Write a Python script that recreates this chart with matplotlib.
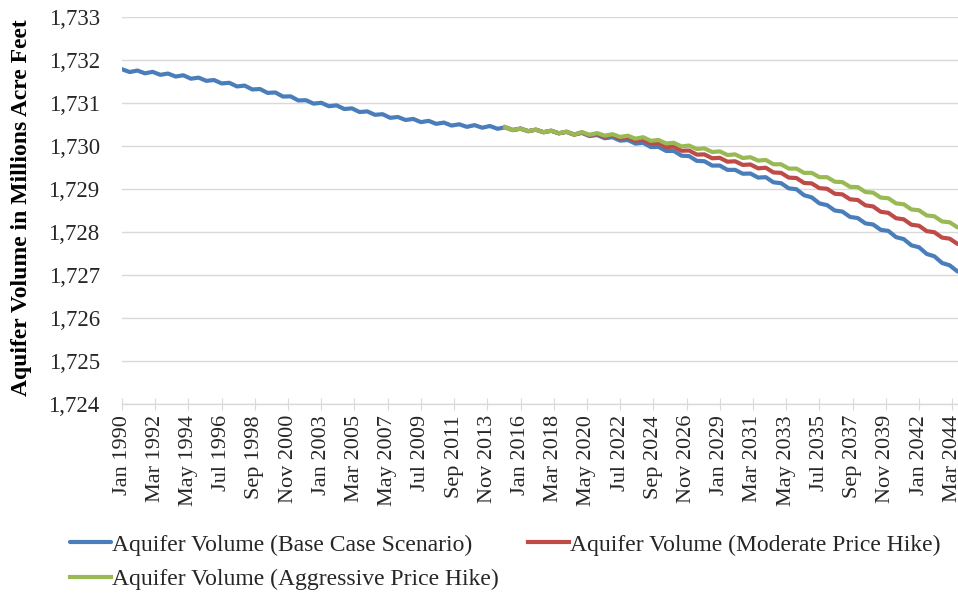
import numpy as np
import matplotlib
matplotlib.use("Agg")
import matplotlib.pyplot as plt

# ---- data (semi-annual readings, months since Jan 1990) ----
base_months = list(range(0, 661, 6))
base_values = [
    1731.785, 1731.72, 1731.755, 1731.69, 1731.725, 1731.655, 1731.685, 1731.615, 1731.645, 1731.565,
    1731.59, 1731.515, 1731.535, 1731.455, 1731.47, 1731.385, 1731.405, 1731.315, 1731.325, 1731.235,
    1731.245, 1731.15, 1731.155, 1731.06, 1731.065, 1730.985, 1731.005, 1730.925, 1730.945, 1730.86,
    1730.875, 1730.79, 1730.805, 1730.725, 1730.74, 1730.655, 1730.675, 1730.605, 1730.63, 1730.555,
    1730.585, 1730.515, 1730.545, 1730.475, 1730.505, 1730.445, 1730.485, 1730.425, 1730.465, 1730.40,
    1730.435, 1730.37, 1730.405, 1730.345, 1730.38, 1730.32, 1730.355, 1730.295, 1730.33, 1730.27,
    1730.305, 1730.23, 1730.255, 1730.18, 1730.205, 1730.125, 1730.14, 1730.055, 1730.075, 1729.975,
    1729.98, 1729.885, 1729.885, 1729.775, 1729.765, 1729.655, 1729.645, 1729.545, 1729.545, 1729.445,
    1729.445, 1729.355, 1729.36, 1729.265, 1729.275, 1729.155, 1729.135, 1729.015, 1728.995, 1728.855,
    1728.805, 1728.665, 1728.625, 1728.50, 1728.475, 1728.35, 1728.325, 1728.20, 1728.175, 1728.05,
    1728.025, 1727.88, 1727.835, 1727.69, 1727.645, 1727.49, 1727.435, 1727.28, 1727.225, 1727.085,
    1727.045,
]

scenario_months = list(range(300, 661, 6))
moderate_values = [
    1730.435, 1730.37, 1730.405, 1730.345, 1730.38, 1730.32, 1730.355, 1730.295, 1730.33, 1730.26,
    1730.315, 1730.25, 1730.28, 1730.21, 1730.245, 1730.17, 1730.195, 1730.12, 1730.145, 1730.055,
    1730.065, 1729.975, 1729.985, 1729.89, 1729.895, 1729.80, 1729.805, 1729.715, 1729.725, 1729.635,
    1729.645, 1729.56, 1729.57, 1729.48, 1729.495, 1729.385, 1729.375, 1729.265, 1729.255, 1729.14,
    1729.13, 1729.02, 1729.005, 1728.89, 1728.875, 1728.76, 1728.745, 1728.62, 1728.595, 1728.47,
    1728.445, 1728.32, 1728.295, 1728.17, 1728.145, 1728.02, 1727.995, 1727.87, 1727.845, 1727.725,
    1727.705,
]
aggressive_values = [
    1730.435, 1730.37, 1730.405, 1730.345, 1730.38, 1730.32, 1730.355, 1730.295, 1730.335, 1730.265,
    1730.325, 1730.26, 1730.30, 1730.24, 1730.275, 1730.21, 1730.24, 1730.17, 1730.205, 1730.12,
    1730.14, 1730.06, 1730.075, 1729.99, 1730.01, 1729.93, 1729.945, 1729.86, 1729.875, 1729.79,
    1729.805, 1729.72, 1729.74, 1729.66, 1729.675, 1729.575, 1729.575, 1729.475, 1729.475, 1729.375,
    1729.375, 1729.275, 1729.275, 1729.17, 1729.16, 1729.05, 1729.045, 1728.93, 1728.915, 1728.80,
    1728.785, 1728.665, 1728.645, 1728.525, 1728.505, 1728.385, 1728.365, 1728.245, 1728.225, 1728.11,
    1728.095,
]

tick_months = list(range(0, 651, 26))
tick_labels = ["Jan 1990", "Mar 1992", "May 1994", "Jul 1996", "Sep 1998", "Nov 2000", "Jan 2003",
               "Mar 2005", "May 2007", "Jul 2009", "Sep 2011", "Nov 2013", "Jan 2016", "Mar 2018",
               "May 2020", "Jul 2022", "Sep 2024", "Nov 2026", "Jan 2029", "Mar 2031", "May 2033",
               "Jul 2035", "Sep 2037", "Nov 2039", "Jan 2042", "Mar 2044"]
y_ticks = list(range(1724, 1734))

series_names = ["Aquifer Volume (Base Case Scenario)",
                "Aquifer Volume (Moderate Price Hike)",
                "Aquifer Volume (Aggressive Price Hike)"]
colors = ["#4a7ebb", "#be4b48", "#98b954"]

plt.rcParams['font.family'] = ['Liberation Serif', 'DejaVu Serif']

fig = plt.figure(figsize=(9.58, 5.95), dpi=100)
ax = fig.add_axes([122/958, 1-404/595, 1-122/958 + 0.01, (404-17)/595])

l1, = ax.plot(base_months, base_values, color=colors[0], lw=3.0, solid_capstyle='round', solid_joinstyle='round')
l2, = ax.plot(scenario_months, moderate_values, color=colors[1], lw=3.0, solid_joinstyle='round')
l3, = ax.plot(scenario_months, aggressive_values, color=colors[2], lw=3.0, solid_joinstyle='round')

ax.set_xlim(0, 662)
ax.set_ylim(1724, 1733)
ax.set_yticks(y_ticks)
ax.set_yticklabels([f"{v:,}" for v in y_ticks])
ax.set_xticks(tick_months)
ax.set_xticklabels(tick_labels, rotation=90, ha='center', va='top')

ax.grid(axis='y', color='#d9d9d9', lw=1.0)
ax.set_axisbelow(True)
for s in ['left', 'right', 'top']:
    ax.spines[s].set_visible(False)
ax.spines['bottom'].set_color('#d9d9d9')
ax.spines['bottom'].set_linewidth(1.0)
ax.tick_params(axis='y', length=0, pad=16, labelsize=16.5, labelcolor='#262626')
ax.tick_params(axis='x', which='major', direction='inout', length=8, color='#d9d9d9', pad=4,
               labelsize=16, labelcolor='#262626')

fig.text(22/958, 1-208/595, "Aquifer Volume in Millions Acre Feet", rotation=90,
         ha='center', va='center', fontsize=17, fontweight='bold', color='#000000')

fig.legend([l1, l3, l2], [series_names[0], series_names[2], series_names[1]],
           ncol=2, loc='upper left', bbox_to_anchor=(70/958, 1-534/595), frameon=False,
           fontsize=17, handlelength=1.75, handletextpad=0.05, columnspacing=1.2,
           labelspacing=0.55, labelcolor='#262626', borderaxespad=0, borderpad=0)

fig.savefig("out.png", dpi=100)
